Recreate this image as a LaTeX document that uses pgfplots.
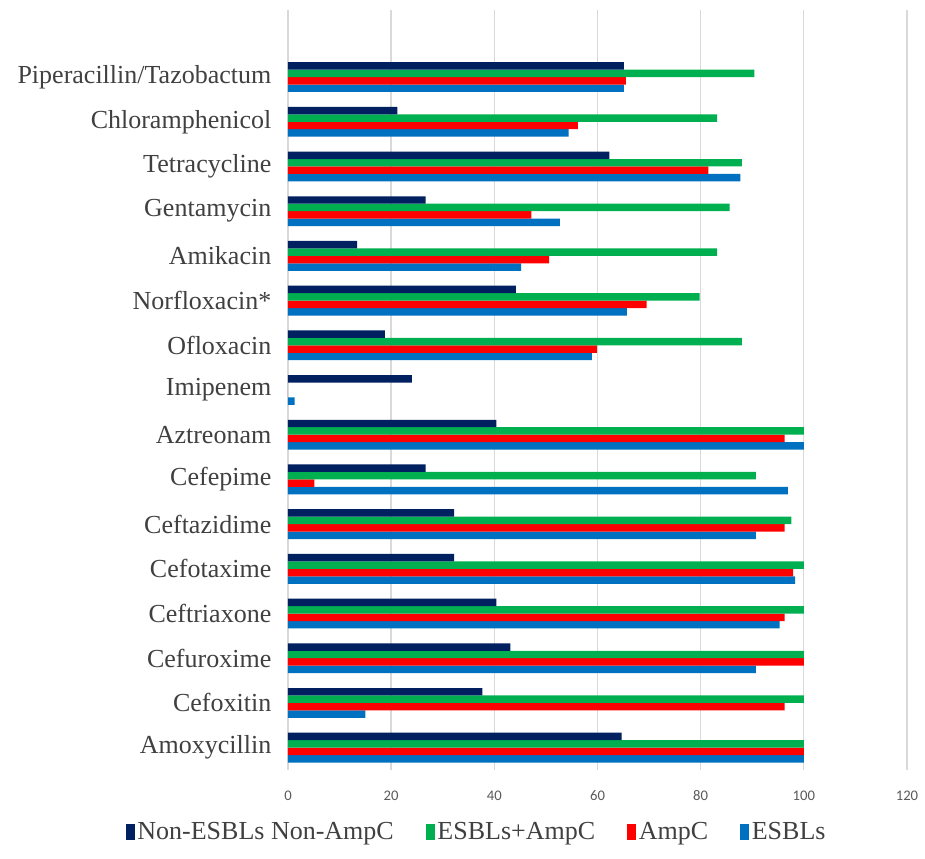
\documentclass[border=0pt]{standalone}
\usepackage{pgfplots}
\usepackage{pgfplotstable}
\usepackage{fontspec}
\pgfplotsset{compat=1.18}
\setmainfont{Liberation Serif}
\newfontfamily\tickfont{Carlito}

\definecolor{cNavy}{HTML}{002060}
\definecolor{cGreen}{HTML}{00B050}
\definecolor{cRed}{HTML}{FF0000}
\definecolor{cBlue}{HTML}{0070C0}
\definecolor{cGrid}{HTML}{D9D9D9}
\definecolor{cText}{HTML}{404040}
\definecolor{cTick}{HTML}{595959}

% idx: 0 = top category
\pgfplotstableread{
idx  non   both  ampc  esbl
0    65.1  90.4  65.5  65.1
1    21.2  83.2  56.2  54.4
2    62.3  88.0  81.5  87.7
3    26.7  85.6  47.2  52.7
4    13.4  83.2  50.6  45.2
5    44.2  79.8  69.5  65.7
6    18.8  88.0  59.9  58.9
7    24.0  0     0     1.3
8    40.4  100   96.3  100
9    26.7  90.7  5.1   96.9
10   32.2  97.6  96.3  90.7
11   32.2  100   97.9  98.3
12   40.4  100   96.3  95.3
13   43.1  100   100   90.7
14   37.7  100   96.3  15.0
15   64.7  100   100   100
}\resist

\begin{document}
\begin{tikzpicture}
\useasboundingbox (-216pt,-66pt) rectangle (477.75pt,577.5pt);
\begin{axis}[
    at={(0,0)}, anchor=south west,
    scale only axis,
    width=464.25pt, height=570pt,
    xbar=0pt,
    bar width=5.6pt,
    y dir=reverse,
    xmin=0, xmax=120,
    ymin=-1.5, ymax=15.5,
    xtick={0,20,...,120},
    ytick={0,...,15},
    yticklabels={Piperacillin/Tazobactum, Chloramphenicol, Tetracycline,
        Gentamycin, Amikacin, Norfloxacin*, Ofloxacin, Imipenem, Aztreonam,
        Cefepime, Ceftazidime, Cefotaxime, Ceftriaxone, Cefuroxime,
        Cefoxitin, Amoxycillin},
    major tick length=0pt,
    axis line style={draw=none},
    xmajorgrids,
    grid style={cGrid, line width=1pt},
    /pgf/number format/assume math mode=true,
    xticklabel style={font=\tickfont\fontsize{11pt}{13pt}\selectfont, text=cTick, yshift=-12pt},
    yticklabel style={font=\fontsize{19.5pt}{22pt}\selectfont, text=cText, xshift=-9pt},
    legend columns=4,
    reverse legend,
    legend style={at={(0.3053,-0.0816)}, anchor=center, draw=none,
        font=\fontsize{19.5pt}{22pt}\selectfont, text=cText,
        /tikz/every even column/.append style={column sep=22pt},
        inner sep=0pt},
    legend image code/.code={\fill[#1] (0pt,-6pt) rectangle (6.75pt,6pt);},
]
% bottom bar of each group first
\addplot[fill=cBlue, draw=none] table[x=esbl, y=idx] {\resist};
\addplot[fill=cRed, draw=none] table[x=ampc, y=idx] {\resist};
\addplot[fill=cGreen, draw=none] table[x=both, y=idx] {\resist};
\addplot[fill=cNavy, draw=none] table[x=non, y=idx] {\resist};
\legend{ESBLs, AmpC, ESBLs+AmpC, Non-ESBLs Non-AmpC}
\end{axis}
\end{tikzpicture}
\end{document}
